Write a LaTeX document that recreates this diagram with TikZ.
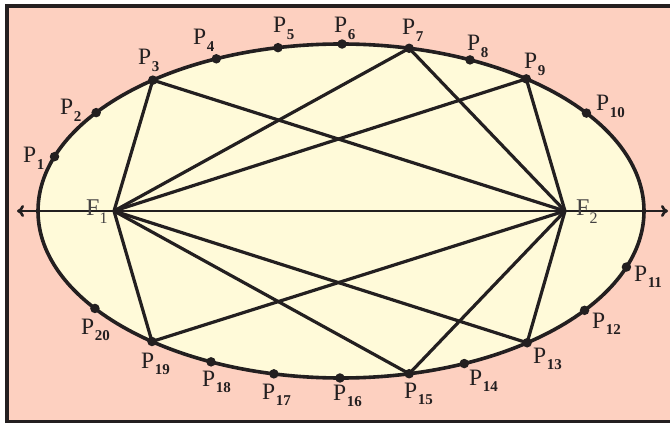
\documentclass[tikz,border=0pt]{standalone}
\usepackage{fontspec}
\usetikzlibrary{arrows.meta}
\setmainfont{Liberation Serif}
\definecolor{bgsalmon}{RGB}{253,208,192}
\definecolor{ellfill}{RGB}{255,250,217}
\definecolor{ink}{RGB}{35,31,32}
\tikzset{
  frame/.style={draw=ink, line width=3.5pt, fill=bgsalmon},
  ell/.style={draw=ink, line width=3.6pt},
  chord/.style={draw=ink, line width=3.2pt, line cap=round},
  axisline/.style={draw=ink, line width=2.6pt},
  dot/.style={circle, fill=ink, inner sep=0pt, minimum size=9.5pt},
  plab/.style={anchor=base west, inner sep=0pt, text=ink, font=\fontsize{23.5}{23.5}\selectfont},
  flab/.style={anchor=base west, inner sep=0pt, text=ink!85, font=\fontsize{24}{24}\selectfont},
}
\newcommand{\psub}[1]{\kern0.5pt\raisebox{-6.5pt}{\fontsize{15}{15}\selectfont\bfseries #1}}
\newcommand{\fsub}[1]{\raisebox{-7pt}{\fontsize{16}{16}\selectfont #1}}
\begin{document}
\begin{tikzpicture}[x=1pt,y=-1pt]
\useasboundingbox (0,0) rectangle (670,425);
\path[frame] (7,6) rectangle (676,421.5);
\coordinate (C) at (341,211);
\fill[ellfill] (C) ellipse [x radius=303, y radius=167];
% foci
\coordinate (F1) at (114,211);
\coordinate (F2) at (565,211);
% points on the ellipse
\foreach \n/\t in {1/199.0,2/216.1,3/231.6,4/245.7,5/258.0,6/270.2,7/283.0,8/295.2,9/307.7,10/324.1,
                   11/19.6,12/36.5,13/52.1,14/66.0,15/77.0,16/90.2,17/102.8,18/115.4,19/128.6,20/144.3}
  \path (C) ++(\t:303 and 167) coordinate (Q\n);
% chords
\foreach \p in {3,7,9,13,15,19} {
  \draw[chord] (F1) -- (Q\p);
  \draw[chord] (F2) -- (Q\p);
}
% axis
\coordinate (AL) at (17,211);
\coordinate (AR) at (668,211);
\draw[axisline, {To[length=7pt,width=12pt]}-{To[length=7pt,width=12pt]}] (AL) -- (AR);
% ellipse outline
\draw[ell] (C) ellipse [x radius=303, y radius=167];
% dots
\foreach \n in {1,...,20}
  \node[dot] (P\n) at (Q\n) {};
% labels
\node[plab] (L1) at (23,163) {P\psub{1}};
\node[plab] (L2) at (60,115) {P\psub{2}};
\node[plab] (L3) at (138,65) {P\psub{3}};
\node[plab] (L4) at (193,45) {P\psub{4}};
\node[plab] (L5) at (273,33) {P\psub{5}};
\node[plab] (L6) at (334,33) {P\psub{6}};
\node[plab] (L7) at (402,35) {P\psub{7}};
\node[plab] (L8) at (467,51) {P\psub{8}};
\node[plab] (L9) at (524,69) {P\psub{9}};
\node[plab] (L10) at (596,111) {P\psub{10}};
\node[plab] (L11) at (634,281) {P\psub{11}};
\node[plab] (L12) at (592,328) {P\psub{12}};
\node[plab] (L13) at (533,363) {P\psub{13}};
\node[plab] (L14) at (469,385) {P\psub{14}};
\node[plab] (L15) at (404,398) {P\psub{15}};
\node[plab] (L16) at (333,400) {P\psub{16}};
\node[plab] (L17) at (262,399) {P\psub{17}};
\node[plab] (L18) at (202,386) {P\psub{18}};
\node[plab] (L19) at (141,368) {P\psub{19}};
\node[plab] (L20) at (81,334) {P\psub{20}};
\node[flab] (LF1) at (86,216) {F\fsub{1}};
\node[flab] (LF2) at (576,216) {F\fsub{2}};
\end{tikzpicture}
\end{document}
